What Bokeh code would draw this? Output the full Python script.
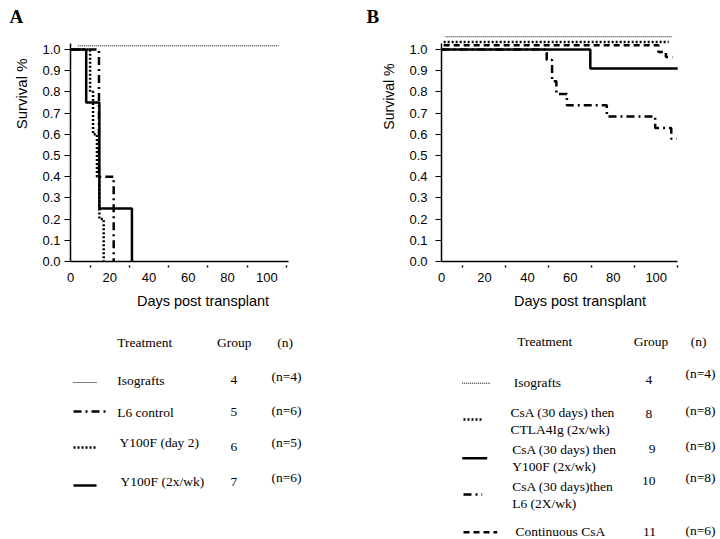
import numpy as np
from bokeh.plotting import figure
from bokeh.models import Range1d, FixedTicker, PrintfTickFormatter, Label, Title
from bokeh.layouts import row, column
from bokeh.embed import file_html
from bokeh.resources import INLINE

# ---------------- data ----------------
y_ticks = [0.0, 0.1, 0.2, 0.3, 0.4, 0.5, 0.6, 0.7, 0.8, 0.9, 1.0]
x_ticks = [0, 20, 40, 60, 80, 100]
x_minor_ticks = [10, 30, 50, 70, 90, 110]

# Panel A
a_iso_days = [3.7, 106.0]
a_iso_surv = [1.017, 1.017]
a_l6_days = [0.0, 14.5, 22.0]
a_l6_surv = [1.0, 0.4, 0.0]
a_day2_days = [0.0, 10.0, 11.5, 13.5, 14.7, 16.9]
a_day2_surv = [1.0, 0.8, 0.6, 0.4, 0.2, 0.0]
a_2xwk_days = [0.0, 8.0, 14.7, 31.3]
a_2xwk_surv = [1.0, 0.75, 0.25, 0.0]

# Panel B
b_iso_days = [1.8, 107.4]
b_iso_surv = [1.06, 1.06]
b_ctla_days = [1.0, 105.8]
b_ctla_surv = [1.035, 1.035]
b_y100f_days = [0.0, 69.3, 110.0]
b_y100f_surv = [1.0, 0.91, 0.91]
b_l6_days = [0.0, 49.0, 51.5, 53.5, 58.4, 77.0, 99.5, 107.0, 109.5]
b_l6_surv = [1.0, 0.95, 0.85, 0.79, 0.737, 0.684, 0.63, 0.579, 0.579]
b_csa_days = [1.0, 101.0, 104.5, 107.5]
b_csa_surv = [1.02, 0.988, 0.965, 0.965]

# Legend tables
leg_a_treat = ["Isografts", "L6 control", "Y100F (day 2)", "Y100F (2x/wk)"]
leg_a_group = ["4", "5", "6", "7"]
leg_a_n = ["(n=4)", "(n=6)", "(n=5)", "(n=6)"]

leg_b_treat = [["Isografts"],
               ["CsA (30 days) then", "CTLA4Ig (2x/wk)"],
               ["CsA (30 days) then", "Y100F (2x/wk)"],
               ["CsA (30 days)then", "L6 (2X/wk)"],
               ["Continuous CsA"]]
leg_b_group = ["4", "8", "9", "10", "11"]
leg_b_n = ["(n=4)", "(n=8)", "(n=8)", "(n=8)", "(n=6)"]
leg_headers = ["Treatment", "Group", "(n)"]

# ---------------- styles ----------------
ISO = dict(line_width=1, line_dash="1 1")
DOT = dict(line_width=2.5, line_dash="2 2")
SOLID = dict(line_width=2.5)
DASHDOT = dict(line_width=2.5, line_dash="8 4 2 4")
DASH = dict(line_width=2.5, line_dash="6 4")

SANS = "Liberation Sans"
SERIF = "Liberation Serif"

PLOT_H = 320
LEG_H = 219
TOP_B = 32
BOT_B = 59


def make_plot(letter, letter_offset, view_end, axis_end, border_left, border_right,
              tick_out, standoff, ylab_offset, ylab_size):
    p = figure(width=360, height=PLOT_H, x_range=Range1d(0, view_end), y_range=Range1d(0, 1.08),
               min_border_left=border_left, min_border_right=border_right,
               min_border_top=TOP_B, min_border_bottom=BOT_B,
               output_backend="svg", toolbar_location=None)
    p.grid.visible = False
    p.outline_line_color = None
    # panel letter
    p.title.text = letter
    p.title.align = "left"
    p.title.offset = letter_offset
    p.title.standoff = 8
    p.title.vertical_align = "top"
    p.title.text_font = SERIF
    p.title.text_font_style = "bold"
    p.title.text_font_size = "19px"
    p.title.text_color = "black"
    # y axis title, placed toward the top like the reference
    p.add_layout(Title(text="Survival %", align="right", offset=ylab_offset, standoff=20,
                       text_font=SANS, text_font_style="normal", text_font_size=ylab_size,
                       text_color="black"), "left")
    for ax in (p.xaxis[0], p.yaxis[0]):
        ax.axis_line_width = 1.5
        ax.axis_line_color = "black"
        ax.major_label_text_font = SANS
        ax.major_label_text_font_size = "13px"
        ax.major_label_text_color = "black"
    p.xaxis.ticker = FixedTicker(ticks=x_ticks, minor_ticks=x_minor_ticks)
    p.xaxis.bounds = (0, axis_end)
    p.xaxis.major_tick_out = 0
    p.xaxis.major_tick_in = 0
    p.xaxis.minor_tick_in = -4
    p.xaxis.minor_tick_out = 6
    p.xaxis.minor_tick_line_width = 1.5
    p.xaxis.major_label_standoff = 5
    p.xaxis.axis_label = "Days post transplant"
    p.xaxis.axis_label_text_font = SANS
    p.xaxis.axis_label_text_font_style = "normal"
    p.xaxis.axis_label_text_font_size = "14.5px"
    p.xaxis.axis_label_text_color = "black"
    p.xaxis.axis_label_standoff = 8
    p.yaxis.ticker = FixedTicker(ticks=y_ticks, minor_ticks=[])
    p.yaxis.formatter = PrintfTickFormatter(format="%.1f")
    p.yaxis.bounds = (0, 1.03)
    p.yaxis.major_tick_out = tick_out
    p.yaxis.major_tick_in = 0
    p.yaxis.major_tick_line_width = 1.2
    p.yaxis.major_label_standoff = standoff
    return p


def add_label(fig, x, y, text, size="13.5px", font=SERIF, align="center"):
    fig.add_layout(Label(x=x, y=y, text=text, text_align=align, text_baseline="middle",
                         text_font=font, text_font_size=size, text_color="black"))


# ---------------- Panel A ----------------
A_LEFT, A_RIGHT = 70, 25
pA = make_plot("A", -61, 135, 111, A_LEFT, A_RIGHT, 6, 4, 26, "15px")
pA.line(a_iso_days, a_iso_surv, line_color="black", **ISO)
pA.step(a_day2_days, a_day2_surv, mode="after", line_color="black", **DOT)
pA.step(a_l6_days, a_l6_surv, mode="after", line_color="black", **DASHDOT)
pA.step(a_2xwk_days, a_2xwk_surv, mode="after", line_color="black", **SOLID)

# ---------------- Panel B ----------------
B_LEFT, B_RIGHT = 81, 2
pB = make_plot("B", -75, 129, 110, B_LEFT, B_RIGHT, 6, 8, 31, "14px")
pB.line(b_iso_days, b_iso_surv, line_color="black", **ISO)
pB.line(b_ctla_days, b_ctla_surv, line_color="black", **DOT)
pB.step(b_csa_days, b_csa_surv, mode="after", line_color="black", **DASH)
pB.step(b_y100f_days, b_y100f_surv, mode="after", line_color="black", **SOLID)
pB.step(b_l6_days, b_l6_surv, mode="after", line_color="black", **DASHDOT)


# ---------------- Legends (page-pixel layout figures) ----------------
def legend_fig(page_x0, left, right):
    f0 = page_x0 + left
    f1 = page_x0 + 360 - right
    f = figure(width=360, height=LEG_H, x_range=Range1d(f0, f1),
               y_range=Range1d(PLOT_H + LEG_H, PLOT_H),
               min_border_left=left, min_border_right=right, min_border_top=0, min_border_bottom=0,
               x_axis_location=None, y_axis_location=None,
               output_backend="svg", toolbar_location=None)
    f.grid.visible = False
    f.outline_line_color = None
    return f


lA = legend_fig(0, A_LEFT, A_RIGHT)
add_label(lA, 116.7, 342, leg_headers[0], align="left")
add_label(lA, 233.7, 342, leg_headers[1])
add_label(lA, 284.5, 342, leg_headers[2])
a_styles = [ISO, DASHDOT, DOT, SOLID]
a_sample_x1 = [97, 106, 97, 96]
a_sample_y = [382, 411, 447, 485]
a_text_x = [116.7, 116.7, 119, 120]
a_text_y = [379.5, 411.7, 441.7, 480.7]
a_group_y = [379.5, 411.7, 446.7, 481]
a_n_y = [376, 410, 441.7, 476.7]
for i in range(4):
    lA.line([73, a_sample_x1[i]], [a_sample_y[i]] * 2, line_color="black", **a_styles[i])
    add_label(lA, a_text_x[i], a_text_y[i], leg_a_treat[i], align="left")
    add_label(lA, 233.3, a_group_y[i], leg_a_group[i])
    add_label(lA, 286, a_n_y[i], leg_a_n[i])

lB = legend_fig(360, B_LEFT, B_RIGHT)
add_label(lB, 516.7, 341, leg_headers[0], align="left")
add_label(lB, 650.5, 341, leg_headers[1])
add_label(lB, 698, 341, leg_headers[2])
b_styles = [ISO, DOT, SOLID, DASHDOT, DASH]
b_sample_x0 = [461.7, 463, 461.7, 463, 463]
b_sample_x1 = [490, 483, 486.7, 481.7, 496.7]
b_sample_y = [382.7, 419, 457.7, 494, 531.7]
b_text_x = [513.3, 510, 511.7, 511.7, 515]
b_text_y = [[381.7], [411.7, 429.3], [449.3, 466], [485.7, 503.3], [530.5]]
b_group_x = [648.3, 648.3, 651.7, 648.3, 649]
b_group_y = [379.3, 413.3, 448.3, 480.7, 531.5]
b_n_y = [373.3, 410, 445, 476.7, 530]
for i in range(5):
    lB.line([b_sample_x0[i], b_sample_x1[i]], [b_sample_y[i]] * 2, line_color="black", **b_styles[i])
    for txt, ty in zip(leg_b_treat[i], b_text_y[i]):
        add_label(lB, b_text_x[i], ty, txt, align="left")
    add_label(lB, b_group_x[i], b_group_y[i], leg_b_group[i])
    add_label(lB, 700, b_n_y[i], leg_b_n[i])

layout = row(column(pA, lA), column(pB, lB))
open("out.html", "w").write(file_html(layout, INLINE))
